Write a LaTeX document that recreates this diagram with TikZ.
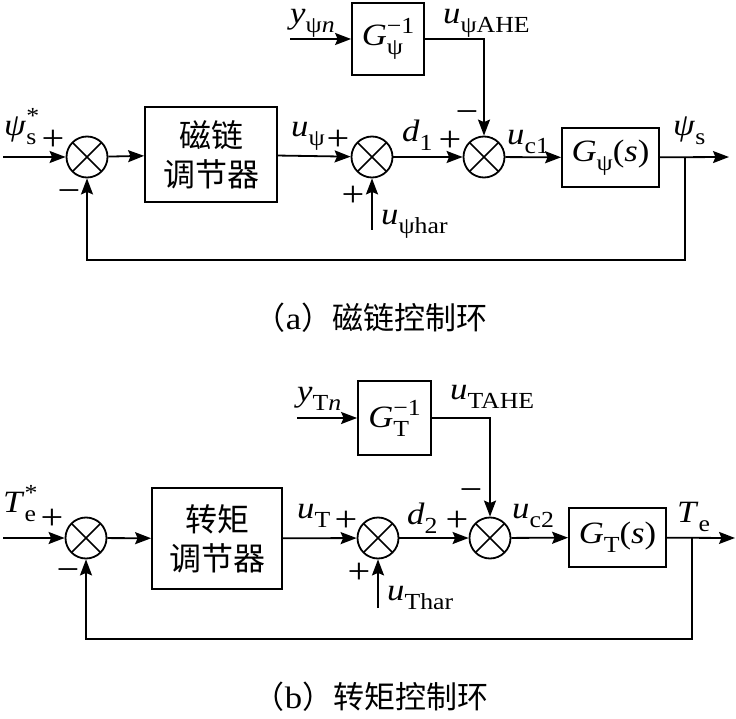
\documentclass[tikz,border=0pt]{standalone}
\usepackage{fontspec}
\setmainfont{Liberation Serif}[FakeStretch=1.12]
\newfontfamily\cjk{Noto Sans CJK SC}
\usetikzlibrary{arrows.meta}
\newcommand\subf{\fontsize{23}{23}\selectfont}
\newcommand\lsb[1]{\raisebox{-9pt}{\subf #1}}
\newcommand\lsbsp[2]{\setbox0\hbox{\raisebox{-9pt}{\subf #1}}\setbox2\hbox{\raisebox{12pt}{\subf #2}}\ifdim\wd0>\wd2 \rlap{\box2}\box0\else\rlap{\box0}\box2\fi}
\tikzset{
  lab/.style={font=\fontsize{31}{36}\selectfont, inner sep=0pt},
  sgn/.style={font=\fontsize{36}{38}\selectfont, inner sep=0pt, anchor=center},
  blk/.style={draw, line width=1.8pt, inner sep=0pt, font=\fontsize{31}{36}\selectfont},
  reg/.style={blk, align=center, font=\cjk\fontsize{32}{39}\selectfont},
  sumn/.style={circle, draw, line width=1.8pt, minimum size=41pt, inner sep=0pt,
    path picture={\draw[line width=1.6pt] (path picture bounding box.north west) -- (path picture bounding box.south east)
      (path picture bounding box.south west) -- (path picture bounding box.north east);}},
  arr/.style={line width=1.8pt, -{Stealth[length=16pt,width=12pt,inset=2.5pt]}},
  captext/.style={font=\fontsize{31}{36}\selectfont, inner sep=0pt}
}
\begin{document}
\begin{tikzpicture}[x=1pt,y=-1pt]
\useasboundingbox (0,0) rectangle (736,719);
% ---------------- (a) ----------------
\node[sumn] (s1a) at (87,157) {};
\node[reg, minimum width=132pt, minimum height=95pt] (rega) at (211,154.5) {磁链\\调节器};
\node[sumn] (s2a) at (372,157) {};
\node[sumn] (s3a) at (484,157) {};
\node[blk, minimum width=97pt, minimum height=59pt] (Ga) at (610.5,157.5) {\textit{G}\lsb{ψ}(\textit{s})};
\node[blk, minimum width=72pt, minimum height=72pt] (Ginva) at (388,39) {\textit{G}\lsbsp{ψ}{−1}};
\coordinate (ina) at (3,157);
\coordinate (outa) at (729,157);
\coordinate (bra) at (685,157);
\coordinate (fba) at (87,260);
\coordinate (yina) at (290,39);
\coordinate (hara) at (372,230);
\draw[arr] (ina) -- (s1a);
\draw[arr] (s1a) -- (rega);
\draw[arr] (rega) -- (s2a);
\draw[arr] (s2a) -- (s3a);
\draw[arr] (s3a) -- (Ga);
\draw[arr] (Ga) -- (outa);
\draw[arr] (bra) |- (fba) -- (s1a);
\draw[arr] (yina) -- (Ginva);
\draw[arr] (Ginva) -| (s3a);
\draw[arr] (hara) -- (s2a);
\node[lab, anchor=base west] (la1) at (4,136) {\textit{ψ}\lsbsp{s}{*}};
\node[sgn] (pa1) at (53,140) {+};
\node[sgn] (ma1) at (69,196) {−};
\node[lab, anchor=base west] (la2) at (291,137) {\textit{u}\lsb{ψ}};
\node[sgn] (pa2) at (338,140) {+};
\node[sgn] (pa3) at (353,196) {+};
\node[lab, anchor=base west] (la3) at (381,225) {\textit{u}\lsb{ψhar}};
\node[lab, anchor=base west] (la4) at (402,142) {\textit{d}\lsb{1}};
\node[sgn] (pa4) at (450,141) {+};
\node[sgn] (ma4) at (467,117) {−};
\node[lab, anchor=base west] (la5) at (507,145) {\textit{u}\lsb{c1}};
\node[lab, anchor=base west] (la6) at (673,136) {\textit{ψ}\lsb{s}};
\node[lab, anchor=base west] (la7) at (443,24) {\textit{u}\lsb{ψAHE}};
\node[lab, anchor=base west] (la8) at (290,24) {\textit{y}\lsb{ψ\textit{n}}};
\node[captext] (capa) at (371,318) {\cjk（\rmfamily a\cjk）磁链控制环};
% ---------------- (b) ----------------
\node[sumn] (s1b) at (86,538) {};
\node[reg, minimum width=130pt, minimum height=101pt] (regb) at (217,538.5) {转矩\\调节器};
\node[sumn] (s2b) at (378,538) {};
\node[sumn] (s3b) at (490,538) {};
\node[blk, minimum width=97pt, minimum height=59pt] (Gb) at (617.5,537.5) {\textit{G}\lsb{T}(\textit{s})};
\node[blk, minimum width=73pt, minimum height=74pt] (Ginvb) at (394.5,418) {\textit{G}\lsbsp{T}{−1}};
\coordinate (inb) at (3,538);
\coordinate (outb) at (735,538);
\coordinate (brb) at (692,538);
\coordinate (fbb) at (86,639);
\coordinate (yinb) at (297,418);
\coordinate (harb) at (378,608);
\draw[arr] (inb) -- (s1b);
\draw[arr] (s1b) -- (regb);
\draw[arr] (regb) -- (s2b);
\draw[arr] (s2b) -- (s3b);
\draw[arr] (s3b) -- (Gb);
\draw[arr] (Gb) -- (outb);
\draw[arr] (brb) |- (fbb) -- (s1b);
\draw[arr] (yinb) -- (Ginvb);
\draw[arr] (Ginvb) -| (s3b);
\draw[arr] (harb) -- (s2b);
\node[lab, anchor=base west] (lb1) at (3,512) {\textit{T}\lsbsp{e}{*}};
\node[sgn] (pb1) at (52,519) {+};
\node[sgn] (mb1) at (68,575) {−};
\node[lab, anchor=base west] (lb2) at (297,518) {\textit{u}\lsb{T}};
\node[sgn] (pb2) at (346,521) {+};
\node[sgn] (pb3) at (359,573) {+};
\node[lab, anchor=base west] (lb3) at (387,600) {\textit{u}\lsb{Thar}};
\node[lab, anchor=base west] (lb4) at (407,524) {\textit{d}\lsb{2}};
\node[sgn] (pb4) at (457,521) {+};
\node[sgn] (mb4) at (471,495) {−};
\node[lab, anchor=base west] (lb5) at (512,518) {\textit{u}\lsb{c2}};
\node[lab, anchor=base west] (lb6) at (677,522) {\textit{T}\lsb{e}};
\node[lab, anchor=base west] (lb7) at (450,399) {\textit{u}\lsb{TAHE}};
\node[lab, anchor=base west] (lb8) at (297,401) {\textit{y}\lsb{T\textit{n}}};
\node[captext] (capb) at (371,697) {\cjk（\rmfamily b\cjk）转矩控制环};
\end{tikzpicture}
\end{document}
